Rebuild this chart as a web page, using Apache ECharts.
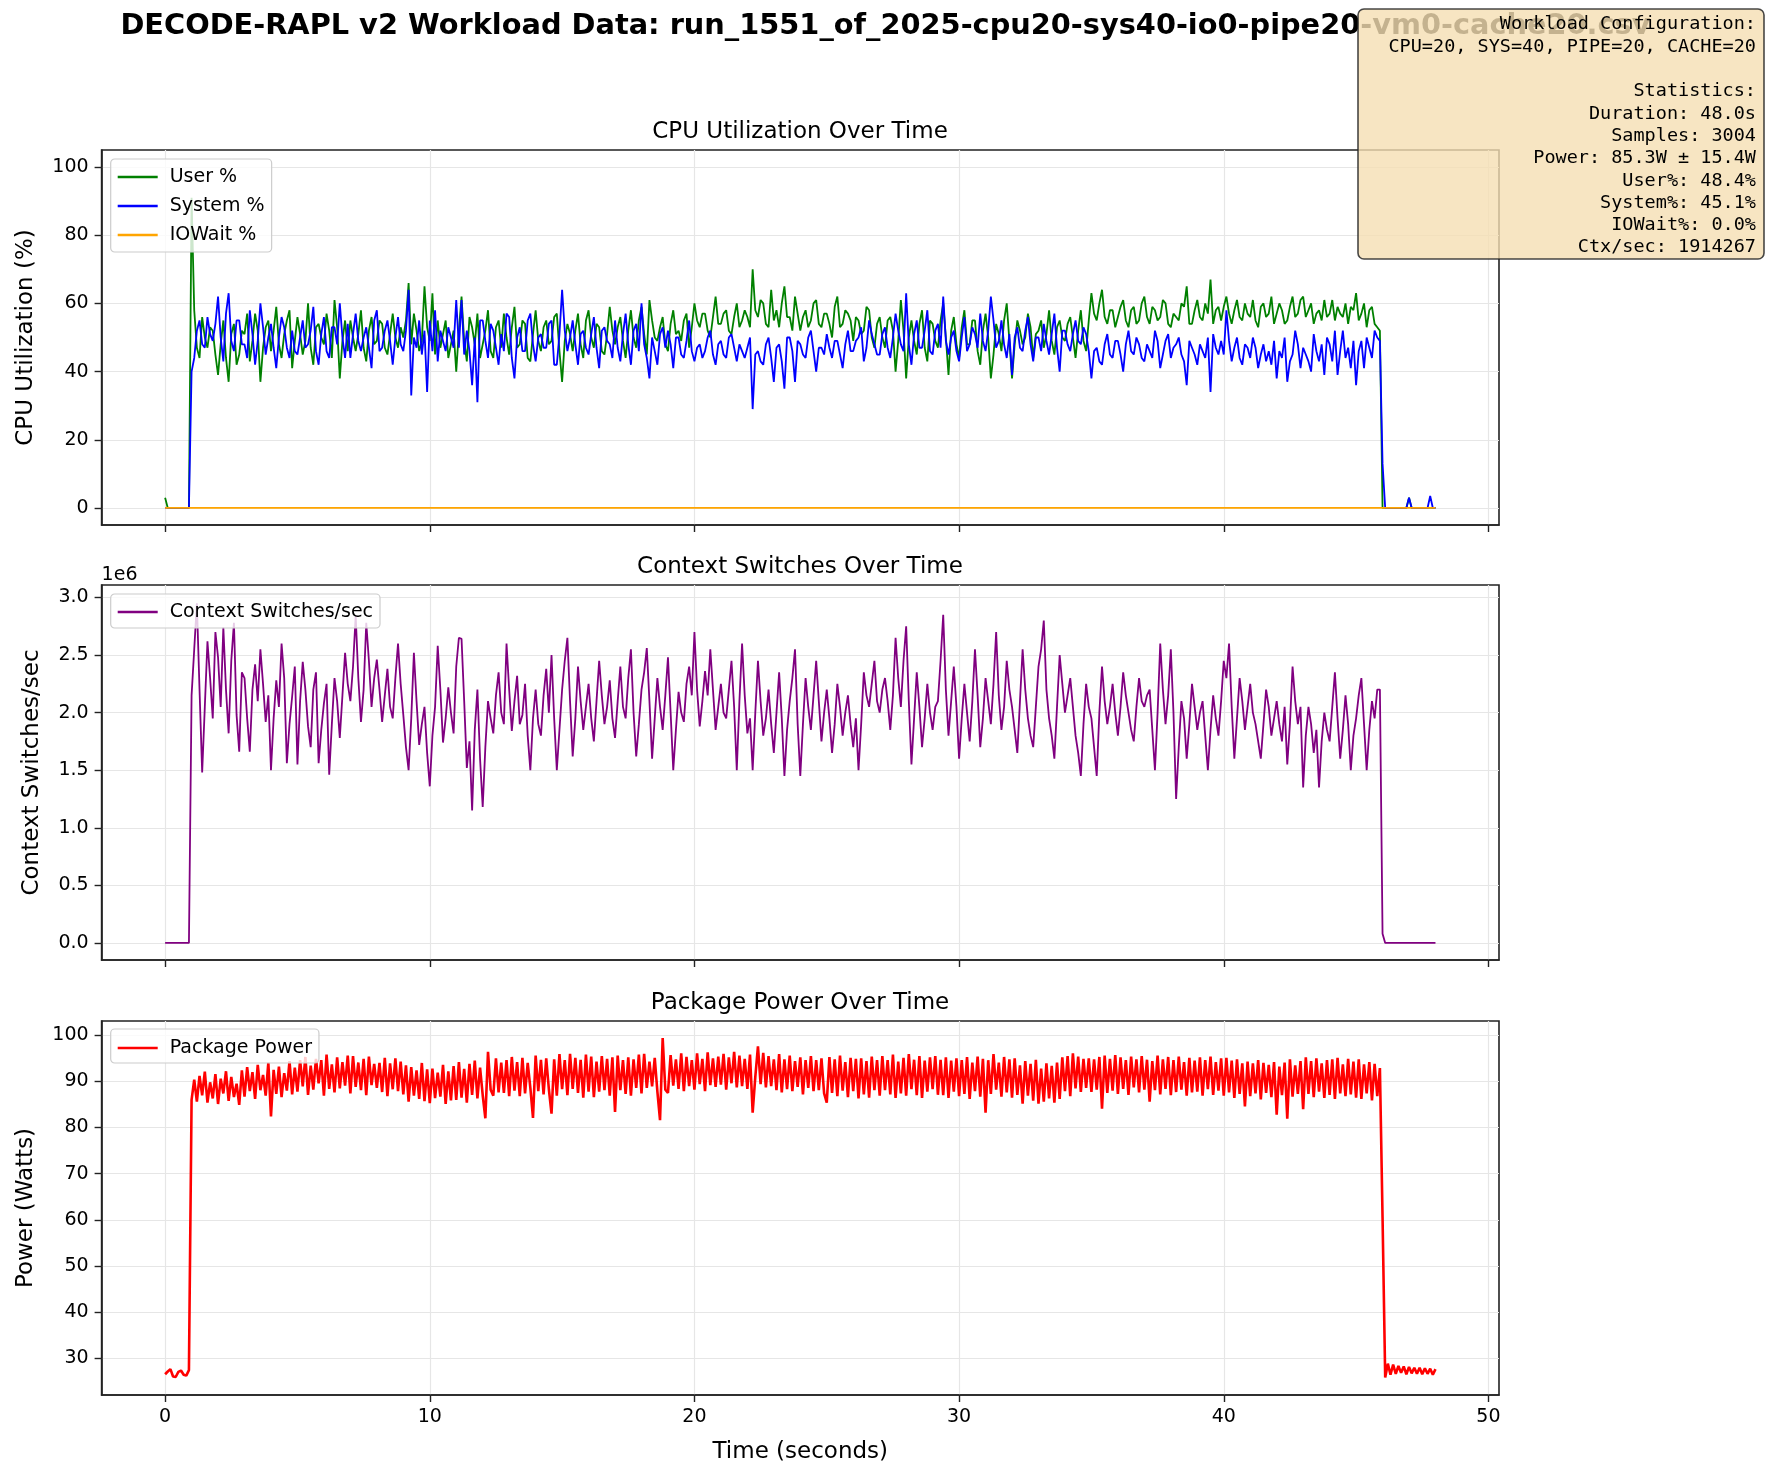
<!DOCTYPE html>
<html>
<head>
<meta charset="utf-8">
<script src="https://cdn.jsdelivr.net/npm/echarts@6/dist/echarts.min.js"></script>
<style>
  html, body { margin: 0; padding: 0; background: #fff; }
  #chart { width: 1771px; height: 1477px; }
</style>
</head>
<body>
<div id="chart"></div>
<script>
// seconds between plotted samples (values every 0.1 s)
const timeStep = 0.1;

const userPct = [
  3, 0, 0, 0, 0, 0, 0, 0, 0, 0,
  91, 58, 47, 44, 56, 50, 47, 53, 52, 45,
  39, 48, 55, 44, 37, 51, 54, 42, 45, 52,
  51, 57, 43, 49, 57, 52, 37, 47, 53, 55,
  46, 52, 59, 48, 44, 51, 55, 58, 41, 49,
  56, 51, 45, 49, 60, 47, 42, 53, 54, 50,
  48, 57, 52, 44, 61, 53, 38, 49, 55, 46,
  55, 50, 46, 51, 58, 47, 43, 52, 56, 48,
  49, 55, 54, 47, 45, 51, 57, 50, 47, 53,
  50, 55, 66, 48, 57, 52, 46, 49, 65, 53,
  49, 63, 45, 55, 47, 51, 55, 44, 48, 52,
  40, 52, 62, 49, 43, 56, 53, 48, 57, 44,
  48, 52, 58, 46, 44, 53, 55, 47, 57, 50,
  45, 53, 59, 47, 48, 55, 54, 44, 43, 51,
  58, 49, 46, 53, 55, 48, 49, 56, 57, 46,
  37, 49, 54, 51, 46, 52, 57, 48, 44, 55,
  58, 50, 47, 54, 53, 46, 45, 51, 59, 52,
  48, 53, 56, 49, 44, 52, 58, 50, 47, 55,
  59, 51, 45, 61, 55, 50, 49, 53, 56, 48,
  46, 54, 58, 51, 52, 49, 55, 57, 47, 53,
  60, 55, 53, 57, 57, 52, 50, 56, 62, 54,
  54, 57, 58, 52, 51, 56, 60, 53, 55, 58,
  56, 53, 70, 58, 56, 61, 60, 54, 53, 64,
  55, 58, 53, 60, 65, 56, 56, 52, 62, 57,
  52, 56, 58, 53, 55, 60, 61, 54, 53, 57,
  57, 54, 50, 59, 62, 53, 54, 58, 57, 55,
  49, 56, 55, 51, 52, 59, 58, 50, 47, 54,
  56, 50, 47, 55, 56, 52, 40, 49, 61, 52,
  38, 50, 55, 49, 45, 54, 58, 47, 43, 55,
  54, 49, 47, 55, 60, 50, 39, 52, 56, 48,
  44, 53, 58, 48, 48, 55, 55, 46, 42, 52,
  57, 50, 38, 45, 54, 51, 46, 55, 60, 49,
  38, 48, 55, 52, 48, 50, 57, 53, 44, 51,
  52, 55, 47, 51, 58, 49, 45, 53, 55, 50,
  49, 54, 56, 50, 44, 52, 58, 49, 46, 55,
  63, 57, 55, 60, 64, 56, 54, 58, 58, 53,
  56, 59, 61, 55, 53, 58, 59, 54, 55, 60,
  62, 56, 54, 59, 58, 55, 56, 61, 60, 54,
  53, 57, 56, 55, 60, 59, 65, 54, 54, 58,
  61, 56, 55, 60, 57, 67, 54, 58, 59, 55,
  59, 62, 57, 54, 58, 61, 56, 55, 60, 57,
  56, 61, 55, 53, 59, 60, 56, 57, 62, 54,
  57, 60, 58, 54, 55, 59, 62, 56, 57, 61,
  62, 56, 58, 60, 54, 57, 58, 55, 61, 56,
  57, 61, 55, 59, 57, 56, 60, 54, 59, 58,
  63, 55, 57, 60, 53, 58, 59, 54, 53, 52,
  0,
  0, 0, 0, 0, 0, 0, 0, 0, 0, 3,
  0, 0, 0, 0, 0, 0, 0, 0, 0, 0
];

const systemPct = [
  0, 0, 0, 0, 0, 0, 0, 0, 0, 0,
  40, 44, 52, 55, 48, 47, 56, 51, 49, 54,
  62, 50, 43, 57, 63, 49, 46, 55, 55, 48,
  48, 44, 58, 51, 42, 49, 60, 53, 45, 50,
  54, 47, 41, 50, 56, 53, 47, 44, 52, 46,
  45, 50, 55, 47, 48, 52, 59, 46, 42, 51,
  56, 46, 44, 53, 53, 48, 60, 50, 44, 54,
  44, 51, 57, 49, 46, 50, 53, 47, 41, 55,
  58, 46, 47, 52, 55, 49, 42, 50, 56, 48,
  46, 52, 64, 33, 50, 47, 55, 45, 52, 34,
  55, 46, 58, 43, 52, 49, 46, 53, 50, 47,
  61, 47, 61, 45, 52, 46, 36, 50, 31, 55,
  55, 49, 44, 54, 52, 47, 42, 51, 46, 57,
  56, 44, 38, 50, 53, 46, 46, 55, 57, 48,
  43, 50, 51, 47, 47, 54, 55, 42, 42, 51,
  64, 52, 46, 50, 55, 48, 42, 51, 52, 47,
  45, 51, 56, 47, 41, 52, 53, 49, 48, 44,
  55, 47, 43, 51, 57, 48, 42, 52, 54, 46,
  60, 48, 44, 38, 50, 46, 42, 51, 53, 47,
  52, 48, 41, 50, 50, 45, 44, 49, 55, 46,
  43, 47, 48, 44, 46, 50, 52, 45, 42, 48,
  49, 45, 44, 50, 51, 47, 43, 48, 46, 44,
  47, 50, 29, 45, 46, 43, 42, 48, 50, 44,
  37, 47, 48, 43, 35, 50, 50, 46, 37, 49,
  48, 45, 44, 50, 52, 46, 40, 47, 47, 45,
  51, 47, 44, 49, 49, 45, 41, 48, 52, 46,
  46, 49, 50, 53, 43, 47, 55, 51, 48, 45,
  45, 51, 53, 47, 44, 50, 57, 52, 48, 46,
  63, 48, 42, 51, 55, 47, 47, 52, 58, 46,
  45, 52, 54, 47, 62, 49, 45, 50, 52, 46,
  43, 50, 56, 46, 48, 53, 51, 47, 57, 49,
  46, 52, 62, 55, 47, 49, 55, 48, 44, 51,
  39, 50, 53, 47, 46, 52, 56, 48, 43, 50,
  50, 46, 54, 49, 45, 51, 57, 47, 40, 52,
  52, 48, 46, 51, 55, 49, 48, 53, 51, 46,
  38, 46, 47, 43, 42, 48, 51, 45, 44, 49,
  49, 45, 40, 48, 52, 46, 45, 50, 48, 44,
  43, 48, 46, 44, 52, 49, 41, 45, 49, 51,
  44, 47, 48, 50, 45, 43, 36, 49, 47, 45,
  42, 48, 46, 44, 50, 34, 51, 47, 45, 49,
  45, 58, 49, 43, 47, 50, 44, 42, 48, 47,
  44, 50, 47, 41, 45, 48, 43, 46, 42, 49,
  38, 46, 44, 50, 37, 43, 45, 52, 48, 41,
  47, 45, 43, 40, 51, 46, 43, 48, 39, 50,
  48, 43, 52, 39, 46, 52, 44, 47, 41, 49,
  36, 46, 49, 41, 50, 47, 44, 52, 50, 49,
  13,
  0, 0, 0, 0, 0, 0, 0, 0, 0, 3,
  0, 0, 0, 0, 0, 0, 0, 3.5, 0, 0
];

const iowaitPct = [
  0, 0, 0, 0, 0, 0, 0, 0, 0, 0, 0, 0, 0, 0, 0, 0, 0, 0, 0, 0,
  0, 0, 0, 0, 0, 0, 0, 0, 0, 0, 0, 0, 0, 0, 0, 0, 0, 0, 0, 0,
  0, 0, 0, 0, 0, 0, 0, 0, 0, 0, 0, 0, 0, 0, 0, 0, 0, 0, 0, 0,
  0, 0, 0, 0, 0, 0, 0, 0, 0, 0, 0, 0, 0, 0, 0, 0, 0, 0, 0, 0,
  0, 0, 0, 0, 0, 0, 0, 0, 0, 0, 0, 0, 0, 0, 0, 0, 0, 0, 0, 0,
  0, 0, 0, 0, 0, 0, 0, 0, 0, 0, 0, 0, 0, 0, 0, 0, 0, 0, 0, 0,
  0, 0, 0, 0, 0, 0, 0, 0, 0, 0, 0, 0, 0, 0, 0, 0, 0, 0, 0, 0,
  0, 0, 0, 0, 0, 0, 0, 0, 0, 0, 0, 0, 0, 0, 0, 0, 0, 0, 0, 0,
  0, 0, 0, 0, 0, 0, 0, 0, 0, 0, 0, 0, 0, 0, 0, 0, 0, 0, 0, 0,
  0, 0, 0, 0, 0, 0, 0, 0, 0, 0, 0, 0, 0, 0, 0, 0, 0, 0, 0, 0,
  0, 0, 0, 0, 0, 0, 0, 0, 0, 0, 0, 0, 0, 0, 0, 0, 0, 0, 0, 0,
  0, 0, 0, 0, 0, 0, 0, 0, 0, 0, 0, 0, 0, 0, 0, 0, 0, 0, 0, 0,
  0, 0, 0, 0, 0, 0, 0, 0, 0, 0, 0, 0, 0, 0, 0, 0, 0, 0, 0, 0,
  0, 0, 0, 0, 0, 0, 0, 0, 0, 0, 0, 0, 0, 0, 0, 0, 0, 0, 0, 0,
  0, 0, 0, 0, 0, 0, 0, 0, 0, 0, 0, 0, 0, 0, 0, 0, 0, 0, 0, 0,
  0, 0, 0, 0, 0, 0, 0, 0, 0, 0, 0, 0, 0, 0, 0, 0, 0, 0, 0, 0,
  0, 0, 0, 0, 0, 0, 0, 0, 0, 0, 0, 0, 0, 0, 0, 0, 0, 0, 0, 0,
  0, 0, 0, 0, 0, 0, 0, 0, 0, 0, 0, 0, 0, 0, 0, 0, 0, 0, 0, 0,
  0, 0, 0, 0, 0, 0, 0, 0, 0, 0, 0, 0, 0, 0, 0, 0, 0, 0, 0, 0,
  0, 0, 0, 0, 0, 0, 0, 0, 0, 0, 0, 0, 0, 0, 0, 0, 0, 0, 0, 0,
  0, 0, 0, 0, 0, 0, 0, 0, 0, 0, 0, 0, 0, 0, 0, 0, 0, 0, 0, 0,
  0, 0, 0, 0, 0, 0, 0, 0, 0, 0, 0, 0, 0, 0, 0, 0, 0, 0, 0, 0,
  0, 0, 0, 0, 0, 0, 0, 0, 0, 0, 0, 0, 0, 0, 0, 0, 0, 0, 0, 0,
  0, 0, 0, 0, 0, 0, 0, 0, 0, 0, 0, 0, 0, 0, 0, 0, 0, 0, 0, 0,
  0
];

// context switches per second, in millions (axis shows "1e6")
const ctxSwitchesM = [
  0, 0, 0, 0, 0, 0, 0, 0, 0, 0,
  2.15, 2.55, 2.95, 2.20, 1.48, 2.05, 2.62, 2.30, 1.95, 2.70,
  2.48, 2.05, 2.74, 2.20, 1.82, 2.45, 2.78, 1.98, 1.66, 2.35,
  2.30, 1.95, 1.66, 2.20, 2.42, 2.10, 2.55, 2.25, 1.92, 2.15,
  1.50, 1.95, 2.28, 2.05, 2.60, 2.30, 1.56, 1.90, 2.14, 2.40,
  1.55, 2.10, 2.44, 2.20, 1.88, 1.70, 2.20, 2.35, 1.56, 1.85,
  2.08, 2.25, 1.46, 1.90, 2.30, 2.10, 1.78, 2.15, 2.52, 2.25,
  2.10, 2.40, 2.84, 2.30, 1.92, 2.20, 2.78, 2.45, 2.05, 2.30,
  2.46, 2.20, 1.92, 2.15, 2.38, 2.05, 1.95, 2.30, 2.60, 2.25,
  1.98, 1.70, 1.50, 1.95, 2.52, 2.10, 1.72, 1.90, 2.05, 1.65,
  1.36, 1.80, 2.05, 2.58, 2.20, 1.74, 1.95, 2.22, 2.00, 1.82,
  2.40, 2.65, 2.64, 2.10, 1.52, 1.75, 1.15, 1.85, 2.20, 1.60,
  1.18, 1.70, 2.10, 1.95, 1.82, 2.15, 2.35, 2.00, 1.90, 2.60,
  2.20, 1.84, 2.10, 2.32, 1.90, 1.98, 2.25, 1.80, 1.50, 1.95,
  2.20, 1.90, 1.80, 2.15, 2.38, 2.00, 2.50, 1.95, 1.50, 1.85,
  2.20, 2.45, 2.65, 2.10, 1.62, 1.95, 2.40, 2.10, 1.85, 2.05,
  2.25, 1.95, 1.75, 2.10, 2.45, 2.15, 1.90, 2.05, 2.28, 1.95,
  1.78, 2.10, 2.40, 2.05, 1.95, 2.30, 2.55, 2.00, 1.62, 1.90,
  2.20, 2.35, 2.56, 2.10, 1.60, 1.95, 2.30, 2.05, 1.85, 2.15,
  2.48, 2.00, 1.50, 1.85, 2.18, 2.00, 1.92, 2.25, 2.40, 2.15,
  2.70, 2.20, 1.88, 2.10, 2.36, 2.15, 2.55, 2.20, 1.85, 2.05,
  2.25, 2.00, 1.95, 2.20, 2.45, 2.05, 1.50, 2.10, 2.60, 2.15,
  1.82, 1.95, 1.50, 2.00, 2.45, 2.10, 1.80, 1.95, 2.20, 1.90,
  1.65, 2.00, 2.35, 1.95, 1.45, 1.85, 2.10, 2.30, 2.55, 1.90,
  1.45, 1.90, 2.30, 2.05, 1.85, 2.15, 2.45, 2.10, 1.75, 2.00,
  2.20, 1.95, 1.65, 1.90, 2.25, 2.05, 1.80, 2.00, 2.15, 1.90,
  1.70, 1.95, 1.50, 1.90, 2.35, 2.15, 2.05, 2.25, 2.45, 2.10,
  2.00, 2.20, 2.30, 2.10, 1.85, 2.15, 2.65, 2.30, 2.05, 2.45,
  2.75, 2.10, 1.55, 1.95, 2.35, 2.05, 1.70, 1.95, 2.25, 2.00,
  1.85, 2.05, 2.10, 2.45, 2.85, 2.20, 1.80, 2.10, 2.40, 2.05,
  1.60, 1.95, 2.25, 2.00, 1.75, 2.10, 2.55, 2.15, 1.70, 1.95,
  2.30, 2.10, 1.90, 2.25, 2.70, 2.15, 1.85, 2.05, 2.45, 2.20,
  2.05, 1.85, 1.65, 2.10, 2.55, 2.20, 1.95, 1.80, 1.70, 2.05,
  2.40, 2.55, 2.80, 2.20, 1.95, 1.80, 1.60, 2.05, 2.50, 2.25,
  2.00, 2.15, 2.30, 2.05, 1.80, 1.65, 1.45, 1.90, 2.25, 2.05,
  1.95, 1.70, 1.45, 2.00, 2.40, 2.10, 1.90, 2.05, 2.25, 2.00,
  1.80, 2.05, 2.35, 2.15, 2.00, 1.85, 1.75, 2.05, 2.30, 2.10,
  2.05, 2.15, 2.20, 1.85, 1.50, 2.00, 2.60, 2.20, 1.90, 2.15,
  2.55, 2.00, 1.25, 1.70, 2.10, 1.95, 1.60, 1.90, 2.25, 2.05,
  1.85, 2.00, 2.10, 1.80, 1.50, 1.85, 2.15, 1.95, 1.80, 2.10,
  2.45, 2.30, 2.60, 2.05, 1.60, 1.95, 2.30, 2.10, 1.85, 2.05,
  2.25, 2.00, 1.90, 1.75, 1.60, 1.90, 2.20, 2.05, 1.80, 1.95,
  2.10, 1.90, 1.75, 2.05, 1.55, 1.90, 2.40, 2.10, 1.90, 2.05,
  1.35, 1.80, 2.05, 1.90, 1.65, 1.85, 1.35, 1.75, 2.00, 1.85,
  1.75, 2.05, 2.35, 1.95, 1.60, 1.85, 2.15, 1.90, 1.50, 1.80,
  1.95, 2.15, 2.30, 1.90, 1.50, 1.85, 2.10, 1.95, 2.20, 2.20,
  0.08,
  0, 0, 0, 0, 0, 0, 0, 0, 0, 0,
  0, 0, 0, 0, 0, 0, 0, 0, 0, 0
];

const powerW = [
  26.5, 27.1, 27.6, 26.0, 25.9, 27.0, 27.3, 26.4, 26.2, 27.4,
  86.0, 90.4, 85.6, 91.2, 87.0, 92.1, 85.4, 89.8, 86.3, 91.6,
  85.1, 90.6, 87.4, 92.2, 85.8, 91.0, 86.6, 89.5, 84.9, 92.4,
  86.7, 93.1, 87.9, 92.0, 86.2, 93.6, 88.1, 91.4, 86.9, 94.1,
  82.4, 92.5, 87.3, 93.2, 86.6, 91.8, 88.0, 94.4, 87.2, 93.0,
  87.8, 94.6, 88.9, 95.3, 87.1, 93.4, 88.2, 94.9, 89.6, 94.6,
  86.9, 95.8, 88.4, 93.7, 87.6, 95.2, 88.5, 94.2, 89.1, 95.6,
  87.4, 95.5, 88.8, 94.1, 88.1, 94.9, 87.0, 95.4, 89.2, 93.8,
  88.6, 94.0, 87.7, 95.1, 86.8, 93.9, 88.3, 95.0, 87.9, 94.3,
  87.2, 93.5, 85.6, 93.1, 86.9, 92.4, 86.2, 94.0, 85.7, 92.6,
  85.3, 92.8, 86.4, 91.9, 86.7, 93.6, 85.1, 92.2, 85.9, 93.3,
  86.0, 94.2, 86.5, 92.7, 85.4, 93.8, 87.1, 94.5, 86.3, 93.0,
  87.0, 82.0, 96.4, 88.2, 86.9, 95.0, 87.6, 94.1, 87.5, 94.6,
  86.8, 95.3, 88.0, 94.2, 86.8, 95.1, 87.4, 94.0, 88.6, 82.1,
  95.6, 87.9, 94.7, 87.2, 95.0, 88.3, 83.0, 94.8, 86.9, 95.9,
  88.3, 94.6, 87.0, 96.0, 88.4, 95.1, 87.5, 94.7, 86.5, 95.8,
  87.8, 95.4, 86.6, 94.3, 87.8, 95.5, 88.1, 94.9, 86.9, 95.2,
  83.4, 95.6, 88.1, 94.6, 87.3, 95.2, 86.9, 94.8, 88.6, 95.8,
  87.4, 96.0, 88.6, 94.3, 88.9, 95.1, 87.8, 81.6, 99.4, 88.2,
  87.5, 95.7, 89.1, 94.8, 88.4, 96.1, 87.9, 95.3, 89.0, 94.6,
  88.2, 96.1, 89.4, 94.9, 87.9, 96.3, 89.2, 95.0, 88.8, 95.4,
  89.3, 96.0, 88.2, 95.2, 89.6, 96.4, 88.7, 95.6, 89.0, 94.9,
  88.4, 95.8, 83.2, 91.0, 97.6, 89.4, 96.2, 88.7, 95.5, 89.0,
  94.8, 88.1, 95.9, 87.6, 94.8, 88.3, 95.6, 87.9, 94.4, 88.8,
  95.2, 87.2, 94.6, 88.6, 95.5, 87.9, 94.6, 88.1, 95.0, 87.4,
  85.4, 95.3, 87.5, 94.8, 86.8, 95.6, 88.0, 94.2, 86.6, 95.1,
  87.9, 94.9, 86.3, 95.0, 87.2, 94.4, 86.5, 95.4, 88.1, 94.6,
  86.9, 95.5, 88.1, 94.6, 87.2, 95.8, 86.4, 94.3, 87.4, 95.1,
  86.9, 95.9, 88.3, 94.7, 87.0, 95.5, 86.4, 94.5, 87.8, 95.2,
  88.3, 95.5, 87.1, 94.7, 87.0, 95.2, 86.4, 94.5, 87.8, 95.0,
  86.8, 94.6, 87.3, 95.3, 86.2, 94.1, 87.9, 95.4, 86.7, 94.9,
  83.2, 94.6, 87.3, 95.9, 88.2, 94.1, 86.7, 95.3, 87.6, 94.8,
  86.5, 95.0, 87.1, 93.5, 85.2, 94.4, 86.9, 93.8, 85.8, 94.7,
  85.2, 92.8, 85.6, 93.9, 86.3, 93.4, 85.4, 94.1, 86.2, 95.2,
  87.9, 95.5, 86.8, 96.1, 88.5, 95.4, 87.7, 94.9, 88.6, 95.0,
  87.7, 94.8, 88.2, 95.3, 84.1, 95.6, 87.5, 94.9, 88.0, 95.7,
  87.3, 95.2, 88.4, 94.6, 87.1, 95.4, 88.7, 94.8, 87.6, 95.5,
  88.2, 94.7, 85.6, 94.4, 88.1, 95.6, 87.2, 94.8, 88.4, 95.3,
  87.0, 94.6, 87.7, 95.4, 88.2, 94.2, 86.9, 95.1, 87.6, 94.5,
  87.8, 95.2, 86.9, 94.6, 88.3, 95.4, 87.1, 94.2, 88.0, 95.0,
  86.9, 95.1, 87.6, 94.5, 86.4, 94.8, 87.3, 93.9, 84.6, 94.3,
  86.8, 93.9, 87.4, 94.6, 86.1, 94.0, 87.5, 93.6, 86.6, 94.2,
  82.8, 93.2, 87.0, 94.1, 81.9, 94.8, 86.7, 93.5, 87.3, 94.4,
  84.0, 95.2, 87.3, 94.4, 86.6, 95.0, 87.8, 93.9, 86.4, 94.6,
  87.1, 94.8, 86.2, 95.1, 87.4, 93.7, 86.8, 94.9, 87.2, 94.3,
  86.5, 94.8, 86.2, 93.7, 87.4, 94.2, 85.9, 93.8, 86.8, 92.9,
  60.5,
  25.8, 28.8, 26.4, 28.6, 26.6, 28.3, 26.8, 28.2, 26.5, 28.1,
  26.7, 27.9, 26.6, 27.9, 26.5, 27.8, 26.6, 27.7, 26.4, 27.6
];

const xTicks = [0, 10, 20, 30, 40, 50];
const cpuTicks = [0, 20, 40, 60, 80, 100];
const ctxTicks = [0, 0.5, 1.0, 1.5, 2.0, 2.5, 3.0];
const powerTicks = [30, 40, 50, 60, 70, 80, 90, 100];

const statsLines = [
  'Workload Configuration:',
  'CPU=20, SYS=40, PIPE=20, CACHE=20',
  '',
  'Statistics:',
  'Duration: 48.0s',
  'Samples: 3004',
  'Power: 85.3W \u00b1 15.4W',
  'User%: 48.4%',
  'System%: 45.1%',
  'IOWait%: 0.0%',
  'Ctx/sec: 1914267'
];

const FONT = 'DejaVu Sans';
const INK = '#222';

const withTime = (arr) => arr.map((v, i) => [+(i * timeStep).toFixed(2), v]);

const plotLeft = 101.6, plotWidth = 1397.4;
const grids = [
  { top: 150, height: 375 },
  { top: 585, height: 375 },
  { top: 1021, height: 374 }
].map(g => ({
  left: plotLeft, width: plotWidth, top: g.top, height: g.height,
  show: true, borderColor: INK, borderWidth: 1.6, backgroundColor: 'transparent',
  containLabel: false, outerBoundsMode: 'none'
}));

const xAxisFor = (gridIndex, showLabels) => ({
  type: 'value', gridIndex, min: -2.4, max: 50.4,
  axisLine: { show: true, onZero: false, lineStyle: { color: INK, width: 1.6 } },
  axisTick: { show: true, inside: false, length: 7, customValues: xTicks, lineStyle: { color: INK, width: 1.4 } },
  axisLabel: { show: showLabels, customValues: xTicks, margin: 13, color: '#000', fontSize: 19, fontFamily: FONT },
  splitLine: { show: true, lineStyle: { color: '#e6e6e6', width: 1.2 } },
  name: showLabels ? 'Time (seconds)' : '',
  nameLocation: 'middle', nameGap: 46,
  nameTextStyle: { color: '#000', fontSize: 23, fontFamily: FONT }
});

const yAxisFor = (gridIndex, min, max, ticks, name, gap, fmt) => ({
  type: 'value', gridIndex, min, max,
  axisLine: { show: true, onZero: false, lineStyle: { color: INK, width: 1.6 } },
  axisTick: { show: true, inside: false, length: 7, customValues: ticks, lineStyle: { color: INK, width: 1.4 } },
  axisLabel: { customValues: ticks, margin: 13, color: '#000', fontSize: 19, fontFamily: FONT, formatter: fmt },
  splitLine: { show: true, lineStyle: { color: '#e6e6e6', width: 1.2 } },
  name, nameLocation: 'middle', nameGap: gap, nameRotate: 90,
  nameTextStyle: { color: '#000', fontSize: 23, fontFamily: FONT }
});

const lineSeries = (name, data, color, width, axisIndex) => ({
  name, type: 'line', data: withTime(data),
  xAxisIndex: axisIndex, yAxisIndex: axisIndex,
  showSymbol: false, symbol: 'none', sampling: null,
  color, itemStyle: { color },
  lineStyle: { color, width },
  animation: false
});

const legendBase = {
  orient: 'vertical', left: 110.7, icon: 'rect',
  itemWidth: 40, itemHeight: 2.6, itemGap: 9,
  backgroundColor: 'rgba(255,255,255,0.8)', borderColor: '#cccccc',
  borderWidth: 1.2, borderRadius: 4, selectedMode: false,
  textStyle: { color: '#000', fontSize: 19, fontFamily: FONT, lineHeight: 20, padding: [0, 0, 0, 7] }
};

const chart = echarts.init(document.getElementById('chart'), null, { renderer: 'canvas' });
chart.setOption({
  backgroundColor: '#fff',
  animation: false,
  grid: grids,
  xAxis: [xAxisFor(0, false), xAxisFor(1, false), xAxisFor(2, true)],
  yAxis: [
    yAxisFor(0, -5, 105, cpuTicks, 'CPU Utilization (%)', 64),
    yAxisFor(1, -0.148, 3.108, ctxTicks, 'Context Switches/sec', 58, v => v.toFixed(1)),
    yAxisFor(2, 22.0, 103.1, powerTicks, 'Power (Watts)', 64)
  ],
  legend: [
    Object.assign({}, legendBase, { top: 159, padding: [8, 7, 7, 7], data: ['User %', 'System %', 'IOWait %'] }),
    Object.assign({}, legendBase, { top: 594, padding: [8, 7, 6, 7], data: ['Context Switches/sec'] }),
    Object.assign({}, legendBase, { top: 1029, padding: [9, 7, 5, 7], data: ['Package Power'] })
  ],
  series: [
    lineSeries('User %', userPct, '#008000', 1.8, 0),
    lineSeries('System %', systemPct, '#0000ff', 1.8, 0),
    lineSeries('IOWait %', iowaitPct, '#ffa500', 1.8, 0),
    lineSeries('Context Switches/sec', ctxSwitchesM, '#800080', 1.8, 1),
    lineSeries('Package Power', powerW, '#ff0000', 2.6, 2)
  ],
  graphic: [
    { type: 'text', x: 885.5, y: 27, z: 90,
      style: { text: 'DECODE-RAPL v2 Workload Data: run_1551_of_2025-cpu20-sys40-io0-pipe20-vm0-cache20.csv',
        font: 'bold 28.8px "DejaVu Sans"', fill: '#000', textAlign: 'center', textVerticalAlign: 'middle' } },
    { type: 'text', x: 800, y: 132, z: 90,
      style: { text: 'CPU Utilization Over Time', font: '23px "DejaVu Sans"', fill: '#000', textAlign: 'center', textVerticalAlign: 'middle' } },
    { type: 'text', x: 800, y: 567, z: 90,
      style: { text: 'Context Switches Over Time', font: '23px "DejaVu Sans"', fill: '#000', textAlign: 'center', textVerticalAlign: 'middle' } },
    { type: 'text', x: 800, y: 1003, z: 90,
      style: { text: 'Package Power Over Time', font: '23px "DejaVu Sans"', fill: '#000', textAlign: 'center', textVerticalAlign: 'middle' } },
    { type: 'text', x: 101.6, y: 575, z: 90,
      style: { text: '1e6', font: '19px "DejaVu Sans"', fill: '#000', textAlign: 'left', textVerticalAlign: 'middle' } },
    { type: 'rect', z: 100,
      shape: { x: 1358, y: 9, width: 406, height: 250, r: 6 },
      style: { fill: 'rgba(245,222,179,0.8)', stroke: 'rgba(40,40,40,0.85)', lineWidth: 1.6 } },
    { type: 'text', x: 1756, y: 13.5, z: 101,
      style: { text: statsLines.join('\n'), font: '18.5px "DejaVu Sans Mono"', lineHeight: 22.3,
        fill: '#000', textAlign: 'right', textVerticalAlign: 'top' } }
  ]
});
</script>
</body>
</html>
